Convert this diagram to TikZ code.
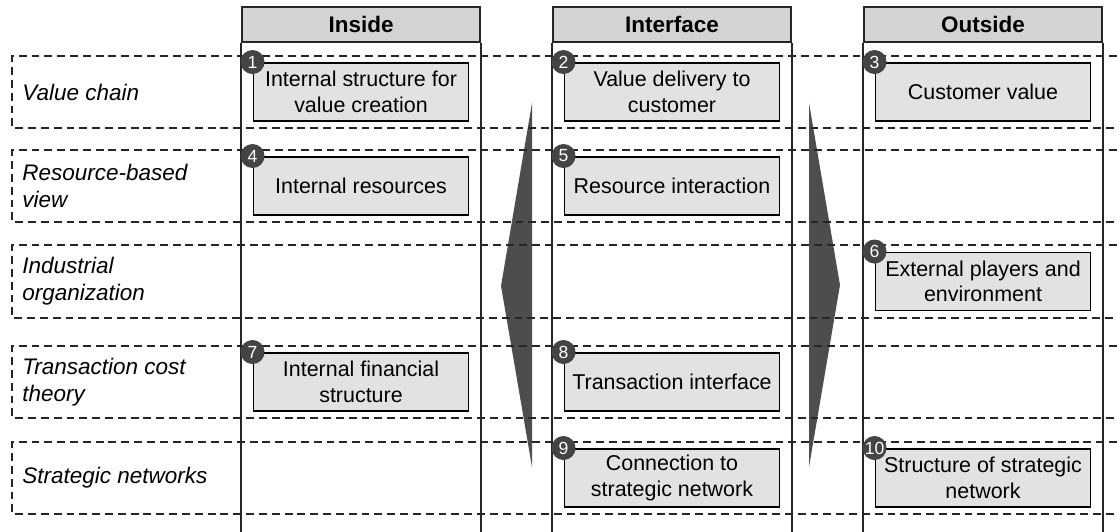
\documentclass[tikz,border=0pt]{standalone}
\usepackage{fontspec}
\setmainfont{Liberation Sans}
\usetikzlibrary{positioning}
\definecolor{headgray}{RGB}{211,211,211}
\definecolor{boxgray}{RGB}{226,226,226}
\definecolor{arrowgray}{RGB}{77,77,77}
\definecolor{badgegray}{RGB}{68,68,68}
\tikzstyle{rowline}=[draw=black!85,line width=0.85pt,dash pattern=on 4.5pt off 2.8pt]
\tikzstyle{colline}=[draw=black!85,line width=1pt]
\tikzstyle{headbox}=[draw=black!85,fill=headgray,line width=1pt,minimum width=4.76cm,minimum height=0.70cm,inner sep=0pt,font=\fontsize{12.8}{15}\selectfont\bfseries]
\tikzstyle{itembox}=[draw=black,fill=boxgray,line width=1.1pt,minimum width=4.30cm,minimum height=1.16cm,inner sep=0pt,align=center,font=\fontsize{12.2}{14.5}\selectfont]
\tikzstyle{badge}=[circle,fill=badgegray,text=white,minimum size=0.48cm,inner sep=0pt,font=\fontsize{10}{10}\selectfont]
\tikzstyle{rowlabel}=[anchor=west,align=left,inner sep=0pt,font=\fontsize{12.8}{15.2}\selectfont\itshape]

\begin{document}
\begin{tikzpicture}
  \useasboundingbox (0,0) rectangle (22.34,10.62);
  % big grey arrows between the columns
  \fill[arrowgray] (10.64,8.56) -- (10.02,4.90) -- (10.64,1.28) -- cycle;
  \fill[arrowgray] (16.18,8.56) -- (16.80,4.92) -- (16.18,1.28) -- cycle;

  % theory rows
  \foreach \i/\t/\b/\lab in {1/9.50/8.06/{Value chain},
                             2/7.62/6.18/{Resource-based\\view},
                             3/5.72/4.26/{Industrial\\organization},
                             4/3.70/2.26/{Transaction cost\\theory},
                             5/1.78/0.34/{Strategic networks}}{
    \draw[rowline] (22.34,\t) -- (0.24,\t) -- (0.24,\b) -- (22.34,\b);
    \node[rowlabel] (lab\i) at (0.44,{(\t+\b)/2}) {\lab};
  }

  % columns
  \foreach \x/\name/\head in {7.22/inside/Inside,13.44/iface/Interface,19.66/outside/Outside}{
    \node[headbox] (h\name) at (\x,10.13) {\head};
    \draw[colline] (h\name.south west) -- ++(0,-9.95);
    \draw[colline] (h\name.south east) -- ++(0,-9.95);
  }

  \node[itembox] (b1) at (7.22,8.78) {Internal structure for\\value creation};
  \node[itembox] (b2) at (13.44,8.78) {Value delivery to\\customer};
  \node[itembox] (b3) at (19.66,8.78) {Customer value};
  \node[itembox] (b4) at (7.22,6.90) {Internal resources};
  \node[itembox] (b5) at (13.44,6.90) {Resource interaction};
  \node[itembox] (b6) at (19.66,4.99) {External players and\\environment};
  \node[itembox] (b7) at (7.22,2.98) {Internal financial\\structure};
  \node[itembox] (b8) at (13.44,2.98) {Transaction interface};
  \node[itembox] (b9) at (13.44,1.06) {Connection to\\strategic network};
  \node[itembox] (b10) at (19.66,1.06) {Structure of strategic\\network};

  \foreach \n in {1,...,10}
    \node[badge] (n\n) at (b\n.north west) {\n};
\end{tikzpicture}
\end{document}
